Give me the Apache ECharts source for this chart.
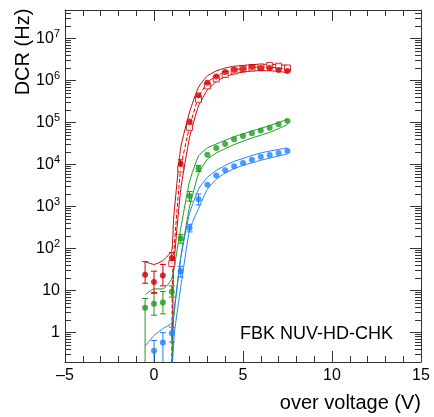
<!DOCTYPE html>
<html>
<head>
<meta charset="utf-8">
<script src="https://cdn.jsdelivr.net/npm/echarts@6/dist/echarts.min.js"></script>
<style>html,body{margin:0;padding:0;background:#fff;}#c{width:434px;height:417px;}</style>
</head>
<body>
<div id="c"></div>
<script>
// ---------- data ----------
const overVoltage = [-0.5, 0, 0.5, 1.0, 1.5, 2.0, 2.5, 3.0, 3.5, 4.0, 4.5, 5.0, 5.5, 6.0, 6.5, 7.0, 7.5];
const redDCR   = [24, 16, 23, 60, 1.05e4, 1.07e5, 4.5e5, 8.9e5, 1.25e6, 1.6e6, 1.8e6, 1.9e6, 2.1e6, 2.0e6, 2.0e6, 1.8e6, 1.7e6];
const greenDCR = [3.9, 4.9, 5.2, 9.4, 174, 1.8e3, 8.1e3, 1.73e4, 2.5e4, 3.1e4, 4.0e4, 4.8e4, 5.6e4, 6.5e4, 7.5e4, 9.1e4, 1.09e5];
const blueDCR  = [null, 0.37, 0.58, 0.97, 29, 310, 1.5e3, 3.3e3, 5.5e3, 7.3e3, 9.1e3, 1.1e4, 1.3e4, 1.55e4, 1.7e4, 1.9e4, 2.1e4];

const redSqVoltage = [1.0, 1.5, 2.0, 2.5, 3.0, 3.5, 4.0, 4.5, 5.0, 5.5, 6.0, 6.5, 7.0, 7.5];
const redSqDCR     = [44, 7.9e3, 7.7e4, 3.6e5, 7.5e5, 1.1e6, 1.4e6, 1.7e6, 1.9e6, 2.0e6, 2.1e6, 2.3e6, 2.2e6, 2.0e6];

// error bars [voltage, low, high]
const redErr   = [[-0.5, 15, 49], [0, 9, 29], [0.5, 13, 42], [1.0, 45, 80], [1.5, 8.5e3, 1.3e4]];
const greenErr = [[-0.5, 0.01, 6.5], [0, 2.6, 8.5], [0.5, 2.8, 9.5], [1.0, 7, 13], [1.5, 135, 215], [2.0, 1.35e3, 2.3e3], [2.5, 6.8e3, 9.6e3]];
const blueErr  = [[0, 0.01, 0.65], [0.5, 0.01, 1.0], [1.0, 0.6, 1.35], [1.5, 21, 38], [2.0, 250, 380], [2.5, 1.1e3, 2.0e3]];

// model curves [voltage, DCR]
const redUpper = [[-0.5, 49], [0, 42], [0.5, 52], [1.0, 90], [1.1, 500], [1.5, 2.5e4], [2.0, 1.8e5], [2.5, 7e5], [3.0, 1.3e6], [3.5, 1.7e6], [4.0, 2.0e6], [4.5, 2.2e6], [5.0, 2.3e6], [5.5, 2.4e6], [6.0, 2.45e6], [6.5, 2.45e6], [7.0, 2.4e6], [7.5, 2.3e6]];
const redMid   = [[1.0, 0.1], [1.05, 30], [1.5, 8e3], [2.0, 8e4], [2.5, 4e5], [3.0, 9e5], [3.5, 1.3e6], [4.0, 1.6e6], [4.5, 1.8e6], [5.0, 1.95e6], [5.5, 2.05e6], [6.0, 2.1e6], [6.5, 2.1e6], [7.0, 2.0e6], [7.5, 1.9e6]];
const redLower = [[1.02, 0.1], [1.1, 30], [1.5, 2.5e3], [2.0, 4.5e4], [2.5, 2.5e5], [3.0, 6e5], [3.5, 9.5e5], [4.0, 1.25e6], [4.5, 1.45e6], [5.0, 1.6e6], [5.5, 1.7e6], [6.0, 1.72e6], [6.5, 1.72e6], [7.0, 1.65e6], [7.5, 1.55e6]];
const greenUpper = [[-0.5, 8], [0, 11], [0.5, 11], [1.0, 19], [1.5, 300], [2.0, 4e3], [2.5, 1.6e4], [3.0, 2.5e4], [3.5, 3.1e4], [4.0, 3.8e4], [4.5, 4.6e4], [5.0, 5.4e4], [5.5, 6.3e4], [6.0, 7.3e4], [6.5, 8.5e4], [7.0, 1.01e5], [7.5, 1.2e5]];
const greenLower = [[1.0, 0.1], [1.1, 2], [1.5, 60], [2.0, 1.0e3], [2.5, 6e3], [3.0, 1.35e4], [3.5, 1.9e4], [4.0, 2.4e4], [4.5, 3.0e4], [5.0, 3.6e4], [5.5, 4.3e4], [6.0, 5.0e4], [6.5, 5.9e4], [7.0, 7.2e4], [7.5, 9.0e4]];
const blueUpper = [[-0.5, 0.48], [0, 0.85], [0.5, 1.25], [1.0, 1.7], [1.5, 60], [2.0, 700], [2.5, 2.6e3], [3.0, 5.0e3], [3.5, 7.3e3], [4.0, 9.5e3], [4.5, 1.2e4], [5.0, 1.4e4], [5.5, 1.65e4], [6.0, 1.9e4], [6.5, 2.1e4], [7.0, 2.3e4], [7.5, 2.5e4]];
const blueLower = [[1.0, 0.1], [1.15, 1], [1.5, 12], [2.0, 280], [2.5, 900], [3.0, 2.6e3], [3.5, 4.5e3], [4.0, 6.3e3], [4.5, 8e3], [5.0, 9.6e3], [5.5, 1.1e4], [6.0, 1.27e4], [6.5, 1.43e4], [7.0, 1.6e4], [7.5, 1.8e4]];

const xTicks = [-5, 0, 5, 10, 15];
const yMajorTicks = [1, 10, 100, 1e3, 1e4, 1e5, 1e6, 1e7];
const yMin = 0.2, yMax = 4.8e7;

// ---------- build ----------
const RED = '#d00000', GREEN = '#1c9a1c', BLUE = '#1f80ff';
const FONT = '"Liberation Sans", Arial, Helvetica, sans-serif';
const AX = '#333';

const yMinorTicks = [];
for (let e = -1; e <= 7; e++) for (let k = 2; k <= 9; k++) {
  const v = k * Math.pow(10, e);
  if (v >= yMin && v <= yMax) yMinorTicks.push(v);
}
const zip = (xs, ys) => xs.map((x, i) => [x, ys[i]]).filter(p => p[1] != null);

function yAxisDef(pos, major, labels) {
  return {
    type: 'log', logBase: 10, min: yMin, max: yMax, position: pos,
    axisLine: { show: major, onZero: false, lineStyle: { color: AX, width: 1 } },
    axisTick: { show: true, inside: true, length: major ? 11 : 6, customValues: major ? yMajorTicks : yMinorTicks, lineStyle: { color: AX, width: 1 } },
    axisLabel: labels ? {
      show: true, customValues: yMajorTicks, margin: 5,
      formatter: v => {
        const e = Math.round(Math.log10(v));
        if (e === 0) return '{b|1}';
        if (e === 1) return '{b|10}';
        return '{b|10}{s|' + e + '}';
      },
      rich: {
        b: { fontFamily: FONT, fontSize: 16, color: '#000' },
        s: { fontFamily: FONT, fontSize: 11, color: '#000', verticalAlign: 'top', padding: [0, 0, 9, 0] }
      }
    } : { show: false },
    splitLine: { show: false }, minorTick: { show: false }
  };
}
function xAxisDef(pos, labels) {
  return {
    type: 'value', min: -5, max: 15, interval: 5, position: pos,
    axisLine: { show: true, onZero: false, lineStyle: { color: AX, width: 1 } },
    axisTick: { show: true, inside: true, length: 11, lineStyle: { color: AX, width: 1 } },
    minorTick: { show: true, splitNumber: 5, length: 6, lineStyle: { color: AX, width: 1 } },
    axisLabel: labels ? { show: true, fontFamily: FONT, fontSize: 16, color: '#000', margin: 6,
      formatter: v => (v < 0 ? '\u2013' + Math.abs(v) : String(v)) } : { show: false },
    splitLine: { show: false }
  };
}

function lineSeries(data, color, dashed) {
  return { type: 'line', data: data, xAxisIndex: 0, yAxisIndex: 0, showSymbol: false, symbol: 'none',
    smooth: 0.15, lineStyle: { color: color, width: 1, type: dashed ? [4, 2] : 'solid' }, z: 2, silent: true, clip: true };
}
function errSeries(data, color) {
  return { type: 'custom', data: data, xAxisIndex: 0, yAxisIndex: 0, clip: true, z: 3, silent: true,
    renderItem: (params, api) => {
      const x = api.value(0), lo = api.value(1), hi = api.value(2);
      const a = api.coord([x, lo]), b = api.coord([x, hi]);
      const st = { stroke: color, lineWidth: 1 };
      return { type: 'group', children: [
        { type: 'line', shape: { x1: a[0], y1: a[1], x2: b[0], y2: b[1] }, style: st },
        { type: 'line', shape: { x1: a[0] - 3, y1: a[1], x2: a[0] + 3, y2: a[1] }, style: st },
        { type: 'line', shape: { x1: b[0] - 3, y1: b[1], x2: b[0] + 3, y2: b[1] }, style: st }
      ]};
    } };
}
function dotSeries(data, color) {
  return { type: 'scatter', data: data, xAxisIndex: 0, yAxisIndex: 0, symbol: 'circle', symbolSize: 6,
    itemStyle: { color: color }, z: 5, silent: true };
}

const option = {
  animation: false,
  backgroundColor: '#fff',
  grid: { left: 65, right: 13, top: 10, bottom: 55, containLabel: false },
  xAxis: [xAxisDef('bottom', true), xAxisDef('top', false)],
  yAxis: [yAxisDef('left', true, true), yAxisDef('left', false, false), yAxisDef('right', true, false), yAxisDef('right', false, false)],
  series: [
    lineSeries(redUpper, RED), lineSeries(redMid, RED, true), lineSeries(redLower, RED),
    lineSeries(greenUpper, GREEN), lineSeries(greenLower, GREEN),
    lineSeries(blueUpper, BLUE), lineSeries(blueLower, BLUE),
    errSeries(redErr, RED), errSeries(greenErr, GREEN), errSeries(blueErr, BLUE),
    { type: 'scatter', data: zip(redSqVoltage, redSqDCR), xAxisIndex: 0, yAxisIndex: 0, symbol: 'rect', symbolSize: 6,
      itemStyle: { color: '#fff', borderColor: RED, borderWidth: 1 }, z: 4, silent: true },
    dotSeries(zip(overVoltage, redDCR), RED),
    dotSeries(zip(overVoltage, greenDCR), GREEN),
    dotSeries(zip(overVoltage, blueDCR), BLUE)
  ],
  graphic: [
    { type: 'text', x: 23, y: 52, rotation: Math.PI / 2,
      style: { text: 'DCR (Hz)', font: '20px ' + FONT, fill: '#000', align: 'center', verticalAlign: 'middle' } },
    { type: 'text', x: 421, y: 403,
      style: { text: 'over voltage (V)', font: '20px ' + FONT, fill: '#000', align: 'right', verticalAlign: 'middle' } },
    { type: 'text', x: 240, y: 334,
      style: { text: 'FBK NUV-HD-CHK', font: '18px ' + FONT, fill: '#000', align: 'left', verticalAlign: 'middle' } }
  ]
};
const chart = echarts.init(document.getElementById('c'), null, { renderer: 'canvas' });
chart.setOption(option);
</script>
</body>
</html>
